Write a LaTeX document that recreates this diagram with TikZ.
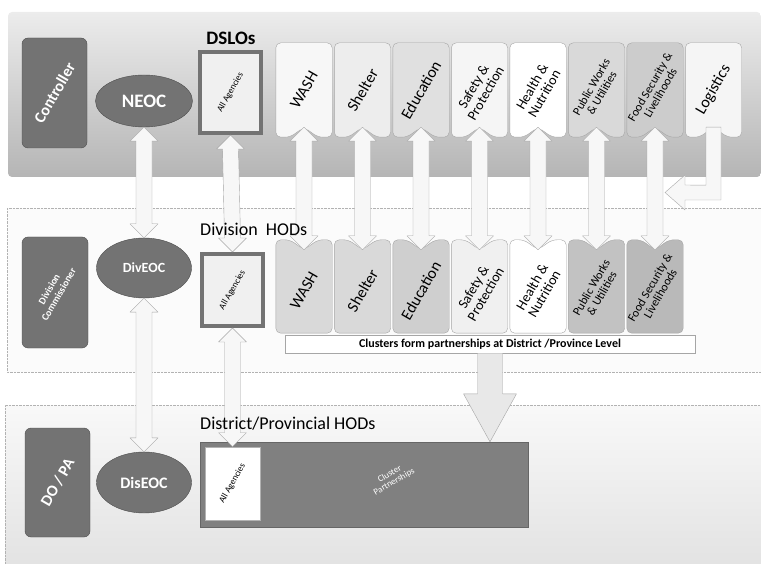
\documentclass[tikz,border=0pt]{standalone}
\usepackage{fontspec}
\setmainfont{Carlito}
\usetikzlibrary{calc,shapes.geometric}

\tikzset{
  panel/.style={draw=gray!60, densely dotted},
  rolebox/.style={draw=black!70, fill=black!55, rounded corners=6pt, text=white, font=\bfseries\fontsize{16}{17}\selectfont, inner sep=0pt},
  eocnode/.style={ellipse, draw=black!70, fill=black!55, text=white, font=\bfseries\fontsize{19}{20}\selectfont, inner sep=0pt},
  agencybox/.style={draw=black!55, line width=4pt, fill=gray!12, font=\fontsize{9}{10}\selectfont, inner sep=0pt},
  slot/.style={minimum width=56, minimum height=94, inner sep=0pt},
  sectorshape/.style={draw=gray!70, rounded corners=5pt},
  sectortext/.style={rotate=60, align=center, inner sep=0pt},
  fatarrow/.style={draw=gray!70, fill=gray!6, line join=round},
  levellabel/.style={font=\fontsize{18}{20}\selectfont, inner sep=0pt}
}

% fat two-headed arrow, top tip #2, bottom tip #3
\newcommand{\dblarrow}[3][]{%
  \draw[fatarrow,#1] (#2) -- ++(14,14) -- ++(-6,0) -- ($(#3)+(8,-14)$) -- ++(6,0) -- (#3)
    -- ++(-14,-14) -- ++(6,0) -- ($(#2)+(-8,14)$) -- ++(-6,0) -- cycle;}

\begin{document}
\begin{tikzpicture}[x=1pt,y=-1pt]
  \useasboundingbox (0,0) rectangle (761,564);

  % levels
  \shade[top color=gray!15, bottom color=gray!58, rounded corners=4pt] (8,12) rectangle (761,177);
  \draw[panel, fill=gray!3] (7,208) rectangle (761,372);
  \shade[top color=gray!5, bottom color=gray!22] (5,405) rectangle (761,564);
  \draw[panel] (761,405) -- (5,405) -- (5,564);

  % who leads
  \node[rolebox, minimum width=65, minimum height=110] (controller) at (54.5,93) {\rotatebox{60}{Controller}};
  \node[rolebox, minimum width=66, minimum height=111, font=\bfseries\fontsize{10}{11}\selectfont] (divcom) at (55,292.5)
    {\rotatebox{60}{\begin{tabular}{@{}c@{}}Division\\Commissioner\end{tabular}}};
  \node[rolebox, minimum width=65, minimum height=109] (dopa) at (57.5,482.5) {\rotatebox{60}{DO / PA}};

  \node[eocnode, minimum width=97, minimum height=52] (neoc) at (144,101) {NEOC};
  \node[eocnode, minimum width=95, minimum height=60, font=\bfseries\fontsize{14}{15}\selectfont] (diveoc) at (144,268) {DivEOC};
  \node[eocnode, minimum width=95, minimum height=61, font=\bfseries\fontsize{16}{17}\selectfont] (diseoc) at (144,482.5) {DisEOC};

  \node[agencybox, minimum width=61, minimum height=81] (agency1) at (230.5,92.5) {\rotatebox{60}{All Agencies}};
  \node[agencybox, minimum width=61, minimum height=72] (agency2) at (232.5,290) {\rotatebox{60}{All Agencies}};
  \node[draw=black!60, fill=black!50, minimum width=328, minimum height=85, inner sep=0pt] (clpart) at (364,484.5) {};
  \node[agencybox, line width=0.6pt, draw=gray!60, fill=white, minimum width=55, minimum height=73] (agency3) at (232.5,483.5)
    {\rotatebox{60}{All Agencies}};
  \node[rotate=30, text=white, align=center, font=\fontsize{9}{9}\selectfont] (cltext) at (392,478) {Cluster\\Partnerships};

  % DSLO clusters
  \foreach \lbl/\fs/\tone [count=\i] in {WASH/16/gray!6, Shelter/16/gray!14, Education/16/gray!24,
      {Safety \&\\Protection}/14/gray!8, {Health \&\\Nutrition}/14/white, {Public Works\\\& Utilities}/12/gray!30,
      {Food Security \&\\Livelihoods}/12/gray!40, Logistics/16/gray!8} {
    \node[slot] (dslo\i) at ({304+58.5*(\i-1)},90) {};
    \draw[sectorshape, fill=\tone] (dslo\i.north west) -- (dslo\i.north east) -- (dslo\i.south east)
      -- ($(dslo\i.south)+(14,0)$) -- ($(dslo\i.south)+(0,-10)$) -- ($(dslo\i.south)+(-14,0)$) -- (dslo\i.south west) -- cycle;
    \node[sectortext, font=\fontsize{\fs}{\fs}\selectfont] (dslo\i-t) at (dslo\i) {\lbl};
    \coordinate (dslo\i-b) at ($(dslo\i.south)+(0,-10)$);
  }

  % division HOD clusters
  \foreach \lbl/\fs/\tone [count=\i] in {WASH/16/gray!30, Shelter/16/gray!30, Education/16/gray!38,
      {Safety \&\\Protection}/14/gray!12, {Health \&\\Nutrition}/14/white, {Public Works\\\& Utilities}/12/gray!48,
      {Food Security \&\\Livelihoods}/12/gray!55} {
    \node[slot, minimum height=93] (hod\i) at ({304+58.5*(\i-1)},286.5) {};
    \draw[sectorshape, fill=\tone] (hod\i.north west) -- ($(hod\i.north)+(-14,0)$) -- ($(hod\i.north)+(0,10)$)
      -- ($(hod\i.north)+(14,0)$) -- (hod\i.north east) -- (hod\i.south east) -- (hod\i.south west) -- cycle;
    \node[sectortext, font=\fontsize{\fs}{\fs}\selectfont] (hod\i-t) at ($(hod\i)+(0,4)$) {\lbl};
    \coordinate (hod\i-n) at ($(hod\i.north)+(0,10)$);
  }

  \node[draw=gray!70, fill=white, minimum width=410, minimum height=18, inner sep=0pt,
    font=\bfseries\fontsize{12}{13}\selectfont] (clbar) at (490,344) {Clusters form partnerships at District /Province Level};

  % links
  \dblarrow{neoc.south}{diveoc.north}
  \dblarrow{agency1.south}{agency2.north}
  \dblarrow{diveoc.south}{diseoc.north}
  \dblarrow{agency2.south}{agency3.north}
  \foreach \i in {1,...,7} {\dblarrow{dslo\i-b}{hod\i-n}}

  \coordinate (logtip) at (665,192.5);
  \draw[fatarrow] ($(dslo8-b)+(-7.5,0)$) -- ($(dslo8-b)+(7.5,0)$) |- ($(logtip)+(20,7.5)$) -- ++(0,10) -- (logtip)
    -- ++(20,-17.5) -- ++(0,10) -- ($(dslo8-b)+(-7.5,58)$) -- cycle;

  \coordinate (cltip) at (clbar.south |- clpart.north);
  \draw[fatarrow, fill=gray!18] ($(clbar.south)+(-12.5,0)$) -- ($(cltip)+(-12.5,-48)$) -- ++(-14,0) -- (cltip)
    -- ($(cltip)+(26.5,-48)$) -- ++(-14,0) -- ($(clbar.south)+(12.5,0)$) -- cycle;

  % level titles on top of the arrows
  \node[levellabel, font=\bfseries\fontsize{19}{20}\selectfont] (dslos) at (231,38) {DSLOs};
  \node[levellabel, anchor=west] (divhods) at (200,229) {Division\ \ HODs};
  \node[levellabel, anchor=west] (dishods) at (200,424) {District/Provincial HODs};
\end{tikzpicture}
\end{document}
